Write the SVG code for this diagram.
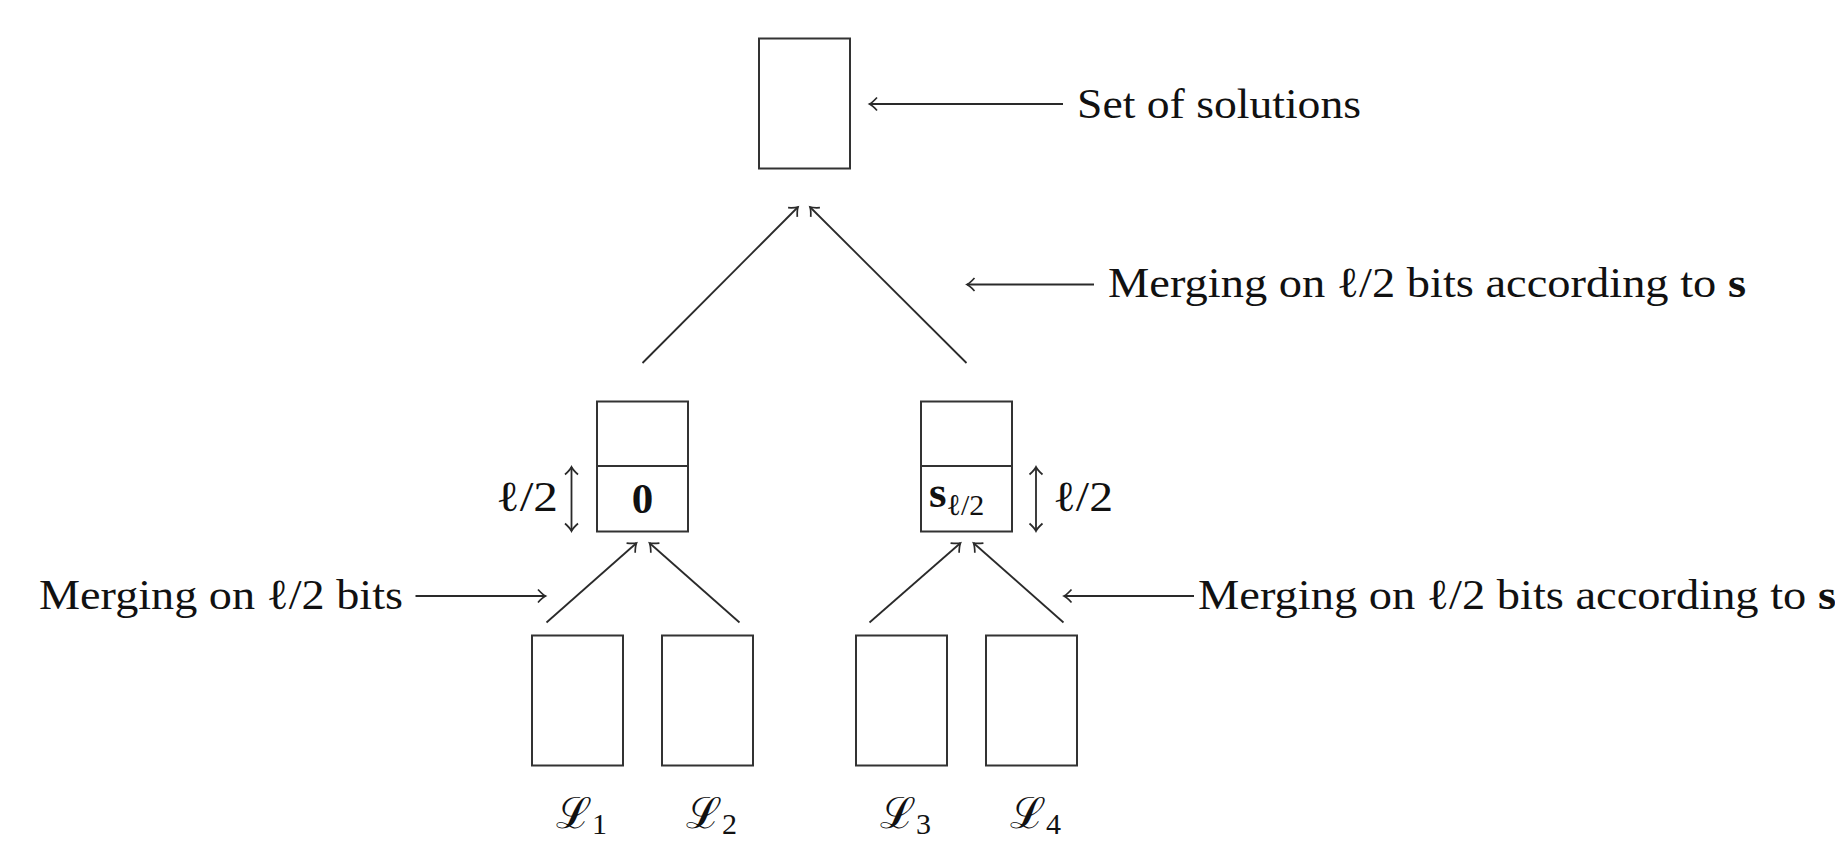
<svg xmlns="http://www.w3.org/2000/svg" width="1835" height="841" viewBox="0 0 1835 841">
<style>
.box{fill:#fff;stroke:#333;stroke-width:2}
.ln{fill:none;stroke:#2a2a2a;stroke-width:1.8}
.arr{marker-end:url(#to)}
.dbl{marker-start:url(#to);marker-end:url(#to)}
text{font-family:"Liberation Serif","DejaVu Serif",serif;font-size:43px;fill:#111}
.b{font-weight:bold}
.sub{font-size:30px}
</style>
<defs>
<marker id="to" markerUnits="userSpaceOnUse" viewBox="-10 -10 20 20" markerWidth="20" markerHeight="20" refX="0" refY="0" orient="auto-start-reverse">
<path d="M-7.5,-6.5 Q-3,-1.5 0,0 Q-3,1.5 -7.5,6.5" fill="none" stroke="#2a2a2a" stroke-width="1.7"/>
</marker>
</defs>
<rect width="1835" height="841" fill="#fff"/>

<g id="top">
<rect class="box" x="759" y="38.5" width="91" height="130"/>
</g>
<g id="mid-left">
<rect class="box" x="597" y="401.5" width="91" height="130"/>
<line class="box" x1="597" y1="466" x2="688" y2="466"/>
<text class="b" x="642.5" y="513" text-anchor="middle" font-size="45">0</text>
</g>
<g id="mid-right">
<rect class="box" x="921" y="401.5" width="91" height="130"/>
<line class="box" x1="921" y1="466" x2="1012" y2="466"/>
<text x="929" y="507"><tspan class="b" font-size="45">s</tspan><tspan class="sub" dy="8">ℓ/2</tspan></text>
</g>
<g id="L1">
<rect class="box" x="532" y="635.5" width="91" height="130"/>
<text x="556" y="828">ℒ<tspan class="sub" dy="6">1</tspan></text>
</g>
<g id="L2">
<rect class="box" x="662" y="635.5" width="91" height="130"/>
<text x="686" y="828">ℒ<tspan class="sub" dy="6">2</tspan></text>
</g>
<g id="L3">
<rect class="box" x="856" y="635.5" width="91" height="130"/>
<text x="880" y="828">ℒ<tspan class="sub" dy="6">3</tspan></text>
</g>
<g id="L4">
<rect class="box" x="986" y="635.5" width="91" height="130"/>
<text x="1010" y="828">ℒ<tspan class="sub" dy="6">4</tspan></text>
</g>

<g id="labels">
<text x="1077" y="118" textLength="284" lengthAdjust="spacingAndGlyphs">Set of solutions</text>
<text x="1108" y="297" textLength="638" lengthAdjust="spacingAndGlyphs">Merging on ℓ/2 bits according to <tspan class="b">s</tspan></text>
<text x="39" y="609" textLength="364" lengthAdjust="spacingAndGlyphs">Merging on ℓ/2 bits</text>
<text x="1198" y="609" textLength="638" lengthAdjust="spacingAndGlyphs">Merging on ℓ/2 bits according to <tspan class="b">s</tspan></text>
<text x="496" y="511" textLength="62" lengthAdjust="spacingAndGlyphs">ℓ/2</text>
<text x="1053" y="511" textLength="60" lengthAdjust="spacingAndGlyphs">ℓ/2</text>
</g>

<g id="connectors">
<line class="ln arr" x1="642.5" y1="363" x2="798" y2="207"/>
<line class="ln arr" x1="966.5" y1="363" x2="810" y2="207"/>
<line class="ln arr" x1="546.5" y1="622.5" x2="636.5" y2="543"/>
<line class="ln arr" x1="739.5" y1="622.5" x2="649.5" y2="543"/>
<line class="ln arr" x1="869.5" y1="622.5" x2="960.5" y2="543"/>
<line class="ln arr" x1="1063.5" y1="622.5" x2="973.5" y2="543"/>
<line class="ln arr" x1="1063" y1="104" x2="869.5" y2="104"/>
<line class="ln arr" x1="1094" y1="284.5" x2="967" y2="284.5"/>
<line class="ln arr" x1="415.5" y1="596" x2="545.5" y2="596"/>
<line class="ln arr" x1="1194" y1="596" x2="1064" y2="596"/>
<line class="ln dbl" x1="571.5" y1="467" x2="571.5" y2="531"/>
<line class="ln dbl" x1="1036" y1="467" x2="1036" y2="531"/>
</g>
</svg>
